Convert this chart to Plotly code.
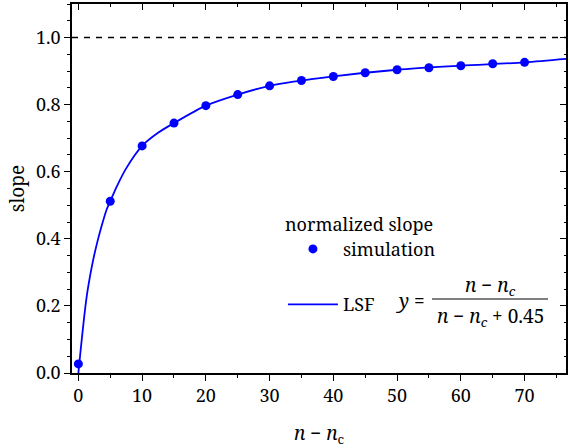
import plotly.graph_objects as go

# simulation points
sim_x = [0, 5, 10, 15, 20, 25, 30, 35, 40, 45, 50, 55, 60, 65, 70]
sim_y = [0.027, 0.512, 0.677, 0.745, 0.797, 0.830, 0.856, 0.872, 0.884, 0.895, 0.904, 0.910, 0.916, 0.922, 0.926]

# least-squares fit curve
fit_x = [0, 0.26, 0.52, 0.8, 1.05, 1.4, 1.82, 2.3, 2.9, 3.6, 4.45, 5, 6, 7.5, 10, 12.5, 15, 20, 25, 30, 40, 50, 60, 70, 77]
fit_y = [0.0, 0.05, 0.098, 0.148, 0.19, 0.24, 0.288, 0.335, 0.385, 0.435, 0.488, 0.512, 0.555, 0.61, 0.677, 0.716, 0.745, 0.797, 0.830, 0.856, 0.884, 0.904, 0.916, 0.926, 0.937]

ref_x = [-1, 77]
ref_y = [1.0, 1.0]

x_ticks = [0, 10, 20, 30, 40, 50, 60, 70]
y_ticks = [0.0, 0.2, 0.4, 0.6, 0.8, 1.0]

FONT = "Noto Serif"
BLUE = "#0000ff"

fig = go.Figure()
fig.add_trace(go.Scatter(x=ref_x, y=ref_y, mode="lines",
                         line=dict(color="black", width=1.5, dash="6px,6px"),
                         showlegend=False, hoverinfo="skip"))
fig.add_trace(go.Scatter(x=fit_x, y=fit_y, mode="lines", name="LSF",
                         line=dict(color=BLUE, width=1.8, shape="spline", smoothing=0.8),
                         legendgroup="b"))
fig.add_trace(go.Scatter(x=sim_x, y=sim_y, mode="markers", name="simulation",
                         marker=dict(color=BLUE, size=9),
                         legendgroup="a", legendrank=1))

axis_common = dict(showline=True, linecolor="black", linewidth=1.5,
                   showgrid=False, zeroline=False, ticklen=6, tickwidth=1.3,
                   tickcolor="black", tickfont=dict(family=FONT, size=18, color="black"))

fig.update_layout(
    width=570, height=448,
    margin=dict(l=72, r=4, t=4, b=75),
    paper_bgcolor="white", plot_bgcolor="white",
    font=dict(family=FONT, size=18, color="black"),
    xaxis=dict(range=[-1, 76.5], tickvals=x_ticks, ticks="outside",
               minor=dict(dtick=5, ticklen=3.5, ticks="outside", tickcolor="black"),
               title=dict(text="<i>n</i> − <i>n</i><sub>c</sub>", standoff=22,
                          font=dict(family=FONT, size=19)),
               **axis_common),
    yaxis=dict(range=[0, 1.1], tickvals=y_ticks, tickformat=".1f", ticks="outside",
               minor=dict(dtick=0.05, ticklen=3.5, ticks="outside", tickcolor="black"),
               title=dict(text="slope", standoff=6, font=dict(family=FONT, size=19)),
               **axis_common),
    xaxis2=dict(overlaying="x", matches="x", side="top", showline=True, linecolor="black",
                linewidth=1.5, ticks="inside", ticklen=6, tickwidth=1.3, tickcolor="black",
                tickvals=x_ticks, showticklabels=False, showgrid=False, zeroline=False,
                minor=dict(dtick=5, ticklen=3.5, ticks="inside", tickcolor="black")),
    yaxis2=dict(overlaying="y", matches="y", side="right", showline=True, linecolor="black",
                linewidth=1.5, ticks="inside", ticklen=6, tickwidth=1.3, tickcolor="black",
                tickvals=y_ticks, showticklabels=False, showgrid=False, zeroline=False,
                minor=dict(dtick=0.05, ticklen=2, ticks="inside", tickcolor="black")),
    legend=dict(x=0.427, y=0.449, xanchor="left", yanchor="top",
                bgcolor="rgba(0,0,0,0)", itemwidth=50, tracegroupgap=29,
                title=dict(text="normalized slope", font=dict(family=FONT, size=18)),
                font=dict(family=FONT, size=18)),
    showlegend=True,
)
fig.add_trace(go.Scatter(x=[None], y=[None], xaxis="x2", yaxis="y2", showlegend=False,
                         hoverinfo="skip"))

# formula  y = (n - n_c) / (n - n_c + 0.45)
fig.add_annotation(xref="paper", yref="paper", x=(410 - 72) / 494, y=(373 - 301) / 369,
                   text="<i>y</i> =", showarrow=False, font=dict(family=FONT, size=19),
                   xanchor="center", yanchor="middle")
fig.add_annotation(xref="paper", yref="paper", x=(490 - 72) / 494, y=(373 - 286) / 369,
                   text="<i>n</i> − <i>n</i><sub><i>c</i></sub>", showarrow=False,
                   font=dict(family=FONT, size=19), xanchor="center", yanchor="middle")
fig.add_annotation(xref="paper", yref="paper", x=(490 - 72) / 494, y=(373 - 317) / 369,
                   text="<i>n</i> − <i>n</i><sub><i>c</i></sub> + 0.45", showarrow=False,
                   font=dict(family=FONT, size=19), xanchor="center", yanchor="middle")
fig.add_shape(type="line", xref="paper", yref="paper",
              x0=(432 - 72) / 494, x1=(548 - 72) / 494,
              y0=(373 - 299) / 369, y1=(373 - 299) / 369,
              line=dict(color="black", width=1))

fig.write_html("out.html", config={"displayModeBar": False},
               post_script="document.body.style.margin='0';document.body.style.padding='0';")
